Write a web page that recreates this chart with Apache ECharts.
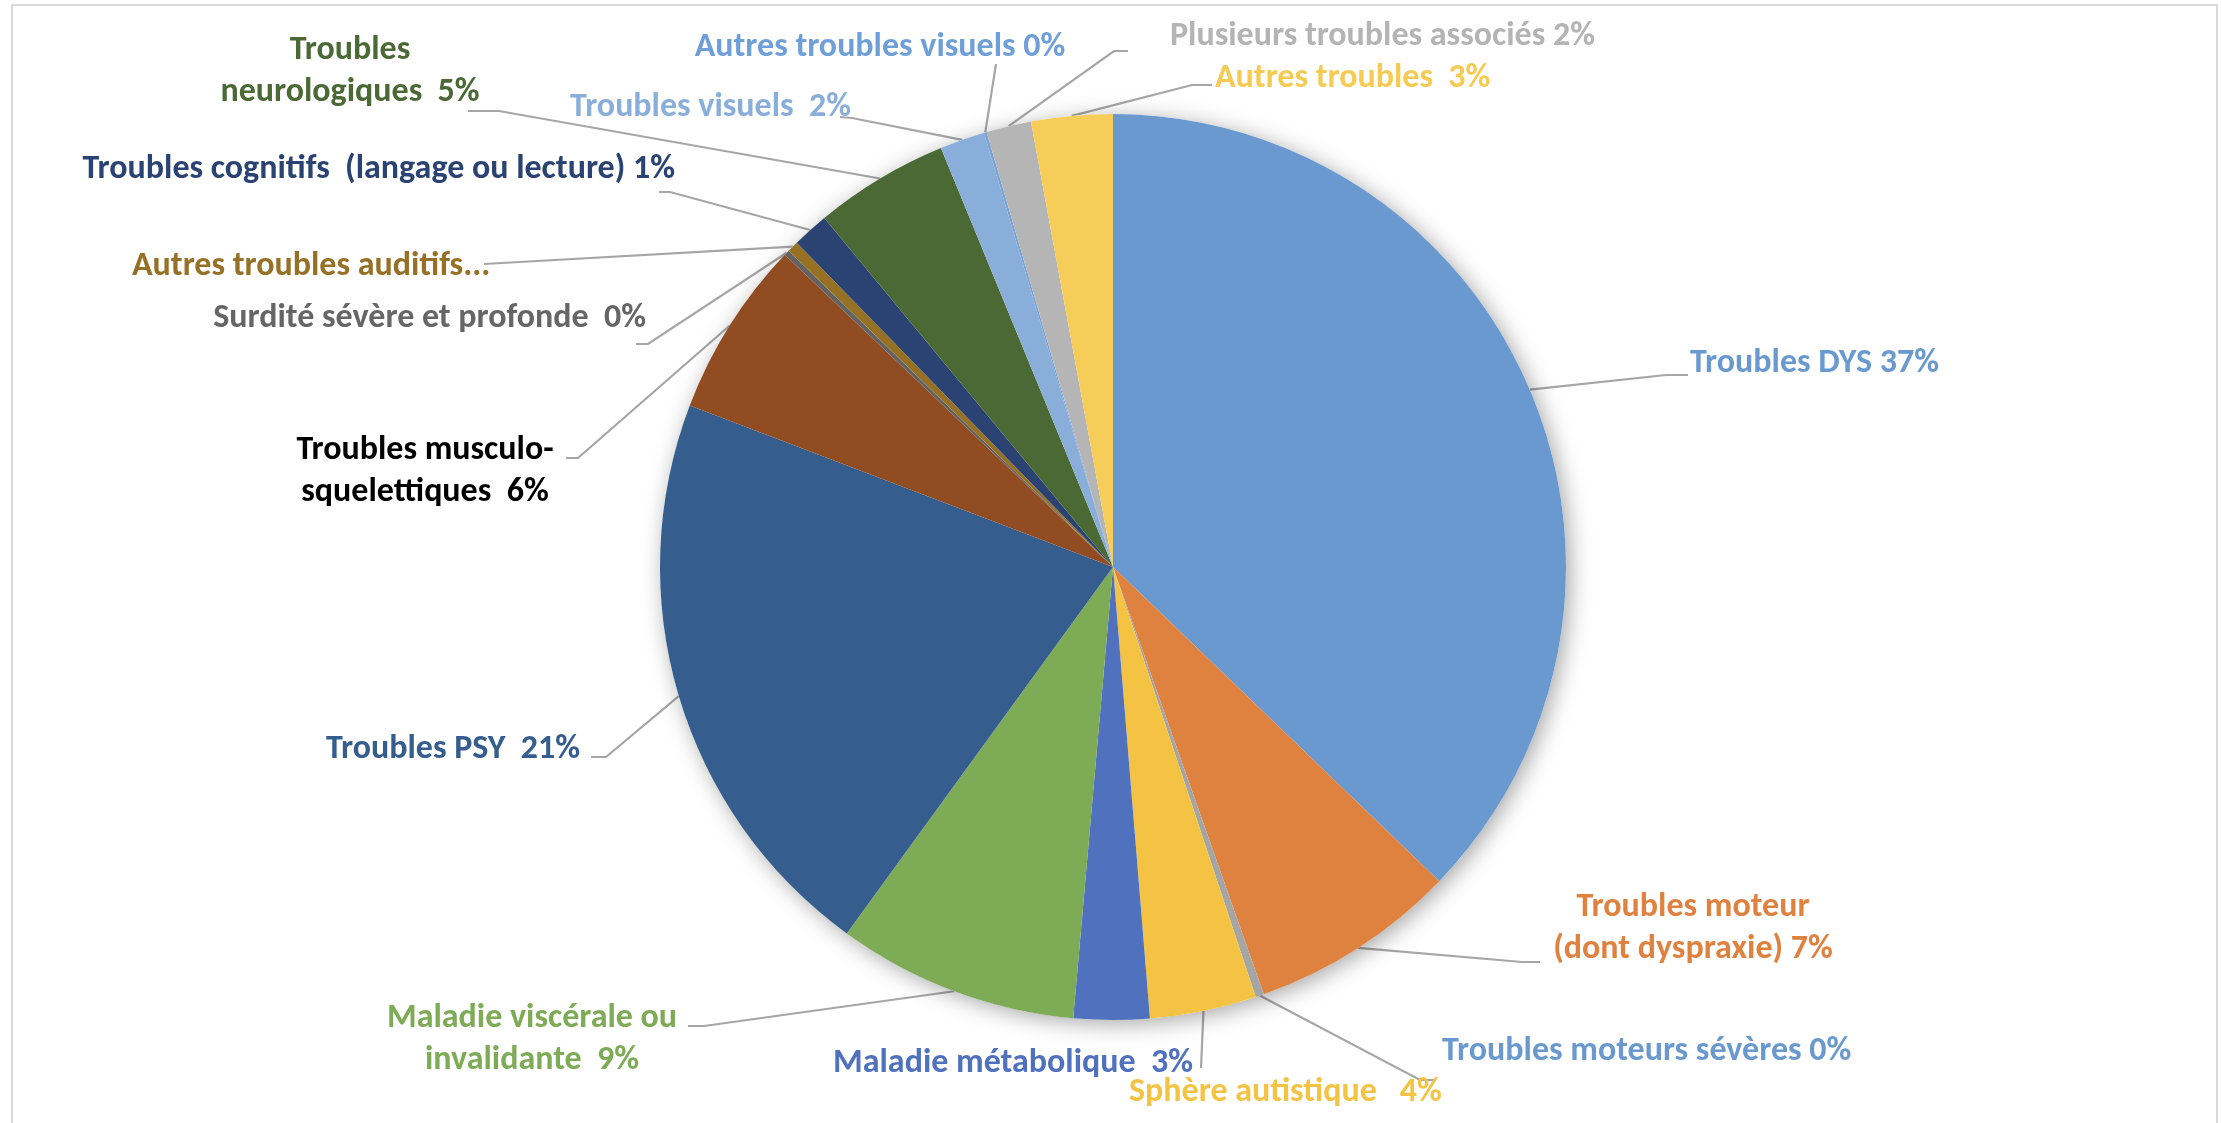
<!DOCTYPE html>
<html><head><meta charset="utf-8">
<script src="https://cdn.jsdelivr.net/npm/echarts@6/dist/echarts.min.js"></script>
<style>html,body{margin:0;padding:0;background:#fff}#c{width:2221px;height:1123px}</style>
</head><body><div id="c"></div>
<script>
// ---- data ----
const categories = [
  "Troubles DYS",
  "Troubles moteur\n(dont dyspraxie)",
  "Troubles moteurs sévères",
  "Sphère autistique",
  "Maladie métabolique",
  "Maladie viscérale ou\ninvalidante",
  "Troubles PSY",
  "Troubles musculo-\nsquelettiques",
  "Surdité sévère et profonde",
  "Autres troubles auditifs",
  "Troubles cognitifs  (langage ou lecture)",
  "Troubles\nneurologiques",
  "Troubles visuels",
  "Autres troubles visuels",
  "Plusieurs troubles associés",
  "Autres troubles"
];
const values = [37.2, 7.4, 0.3, 3.8, 2.7, 8.6, 20.8, 6.3, 0.2, 0.4, 1.3, 4.8, 1.6, 0.1, 1.6, 2.9];

// ---- styles / layout ----
const sliceColors = ["#6A99D0","#E0823F","#A5A5A5","#F5C343","#4F71BE","#7EAB55","#355D8D","#914C22",
                     "#636363","#977123","#2B4372","#4B6934","#8AAEDA","#7CA3D5","#B5B5B5","#F6CD58"];
const labelColors = ["#6A99D0","#E0823F","#6A99D0","#F5C343","#4F71BE","#7EAB55","#355D8D","#000000",
                     "#666666","#967024","#2B4372","#4B6934","#8AAEDA","#6F9FD8","#B4B4B4","#F6CB53"];
const labelSep = [" "," "," ","   ","  ","  ","  ","  ","  "," "," ","  ","  "," "," ","  "];
const labelPos = [
  [1690,363,'left'],[1693,928,'center'],[1442,1051,'left'],[1129,1092,'left'],
  [833,1063,'left'],[532,1039,'center'],[580,749,'right'],[425,471,'center'],
  [646,318,'right'],[132,266,'left'],[675,169,'right'],[350,71,'center'],
  [851,107,'right'],[880,47,'center'],[1170,36,'left'],[1215,78,'left']
];
const lineEnds = [
  [[1666,375],[1688,375]], [[1522,962],[1540,962]], [[1420,1080],[1436,1080]], [[1201,1068]],
  null, [[704,1026],[688,1026]], [[606,757],[591,757]], [[578,458],[566,458]],
  [[648,344],[636,344]], [[484,264]], [[670,192],[659,192]], [[499,111],[468,111]],
  [[852,118],[840,117]], [[996,64]], [[1114,51],[1128,51]], [[1192,85],[1212,85]]
];
const FONT = "Carlito, 'Liberation Sans Narrow', 'Roboto Condensed', 'Noto Sans', sans-serif";

const chart = echarts.init(document.getElementById('c'), null, {renderer:'canvas'});
const data = categories.map((n,i)=>{
  const item = {name:n, value:values[i], itemStyle:{color:sliceColors[i]},
    label:{color:labelColors[i]}};
  if (i === 9) { item.label.width = 370; item.label.overflow = 'truncate'; item.label.ellipsis = '...'; }
  if (!lineEnds[i]) item.labelLine = {show:false};
  return item;
});

chart.setOption({
  animation:false,
  backgroundColor:'#fff',
  graphic:[{type:'rect', shape:{x:12,y:5,width:2205,height:1140}, style:{fill:null, stroke:'#D9D9D9', lineWidth:2}, silent:true}],
  series:[
    {type:'pie', center:[1113,567], radius:453, silent:true, label:{show:false}, labelLine:{show:false},
     data:[{value:1, itemStyle:{color:'#fff', shadowBlur:22, shadowColor:'rgba(0,0,0,0.35)', shadowOffsetX:4, shadowOffsetY:4}}]},
    {type:'pie', center:[1113,567], radius:453, startAngle:90, clockwise:true, avoidLabelOverlap:false,
     data:data,
     label:{show:true, position:'outside', fontFamily:FONT, fontWeight:'bold', fontSize:34, lineHeight:42,
       formatter:p=>p.name+labelSep[p.dataIndex]+Math.round(p.percent)+'%'},
     labelLine:{show:true, length:10, length2:10, lineStyle:{color:'#A6A6A6', width:2.2}},
     labelLayout:function(p){
       const i = p.dataIndex;
       const lp = labelPos[i];
       const res = {x:lp[0], y:lp[1], align:lp[2], verticalAlign:'middle'};
       if (lineEnds[i] && p.labelLinePoints) {
         res.labelLinePoints = [p.labelLinePoints[0]].concat(lineEnds[i]);
       }
       return res;
     }
    }
  ]
});
</script></body></html>
